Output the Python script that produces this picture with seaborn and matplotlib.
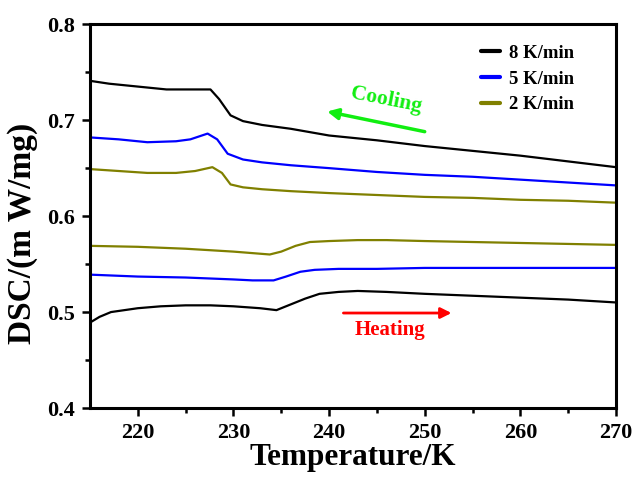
import numpy as np
import pandas as pd
import matplotlib
matplotlib.use('Agg')
import matplotlib.pyplot as plt
import seaborn as sns

# datos (cooling = arriba, heating = abajo)
t_c8 = [215, 217, 220, 223, 225, 227.6, 228.5, 229.7, 231, 233, 236, 240, 245, 250, 255, 260, 265, 270]
dsc_c8 = [0.741, 0.738, 0.735, 0.732, 0.732, 0.732, 0.722, 0.705, 0.699, 0.695, 0.691, 0.684, 0.679, 0.673, 0.668, 0.663, 0.657, 0.651]

t_c5 = [215, 218, 221, 224, 225.5, 227.3, 228.3, 229.4, 231, 233, 236, 240, 245, 250, 255, 260, 265, 270]
dsc_c5 = [0.682, 0.680, 0.677, 0.678, 0.680, 0.686, 0.680, 0.665, 0.659, 0.656, 0.653, 0.650, 0.646, 0.643, 0.641, 0.638, 0.635, 0.632]

t_c2 = [215, 218, 221, 224, 226, 227.8, 228.8, 229.7, 231, 233, 236, 240, 245, 250, 255, 260, 265, 270]
dsc_c2 = [0.649, 0.647, 0.645, 0.645, 0.647, 0.651, 0.645, 0.633, 0.630, 0.628, 0.626, 0.624, 0.622, 0.620, 0.619, 0.617, 0.616, 0.614]

t_h2 = [215, 220, 225, 230, 233.8, 235, 236.5, 238, 240, 243, 246, 250, 255, 260, 265, 270]
dsc_h2 = [0.569, 0.568, 0.566, 0.563, 0.560, 0.563, 0.569, 0.573, 0.574, 0.575, 0.575, 0.574, 0.573, 0.572, 0.571, 0.570]

t_h5 = [215, 220, 225, 230, 232, 234.2, 235.5, 237, 238.5, 241, 245, 250, 255, 260, 265, 270]
dsc_h5 = [0.539, 0.537, 0.536, 0.534, 0.533, 0.533, 0.537, 0.542, 0.544, 0.545, 0.545, 0.546, 0.546, 0.546, 0.546, 0.546]

t_h8 = [215, 216, 217.2, 220, 222.4, 225, 227.6, 230, 232.8, 234.5, 236, 237.5, 239, 241, 243, 246, 250, 255, 260, 265, 270]
dsc_h8 = [0.489, 0.495, 0.500, 0.504, 0.506, 0.507, 0.507, 0.506, 0.504, 0.502, 0.508, 0.514, 0.519, 0.521, 0.522, 0.521, 0.519, 0.517, 0.515, 0.513, 0.510]

rates = ['8 K/min', '5 K/min', '2 K/min']
colores = ['#000000', '#0000ff', '#808000']

# tabla larga para seaborn
partes = []
for t, v, r, m in [(t_c8, dsc_c8, rates[0], 'cooling'), (t_c5, dsc_c5, rates[1], 'cooling'),
                   (t_c2, dsc_c2, rates[2], 'cooling'), (t_h8, dsc_h8, rates[0], 'heating'),
                   (t_h5, dsc_h5, rates[1], 'heating'), (t_h2, dsc_h2, rates[2], 'heating')]:
    partes.append(pd.DataFrame({'T': t, 'DSC': v, 'rate': r, 'modo': m}))
datos = pd.concat(partes, ignore_index=True)

sns.set_style('ticks')
plt.rcParams['font.family'] = ['Liberation Serif', 'DejaVu Serif']
plt.rcParams['font.weight'] = 'bold'
plt.rcParams['text.color'] = 'black'
plt.rcParams['axes.labelcolor'] = 'black'
plt.rcParams['xtick.color'] = 'black'
plt.rcParams['ytick.color'] = 'black'
plt.rcParams['axes.edgecolor'] = 'black'

fig = plt.figure(figsize=(6.38, 4.84), dpi=100)
ax = fig.add_axes([0.141, 0.157, 0.8245, 0.793])

sns.lineplot(data=datos, x='T', y='DSC', hue='rate', units='modo', estimator=None,
             hue_order=rates, palette=colores, linewidth=1.6, ax=ax, sort=False)

ax.set_xlim(215, 270)
ax.set_ylim(0.4, 0.8)
ax.set_xticks([220, 230, 240, 250, 260, 270])
ax.set_xticks(np.arange(225, 270, 10), minor=True)
ax.set_yticks([0.4, 0.5, 0.6, 0.7, 0.8])
ax.set_yticks([0.45, 0.55, 0.65, 0.75], minor=True)
ax.tick_params(which='both', direction='out', width=1.8, labelsize=16, top=False, right=False)
ax.tick_params(which='major', length=6, pad=5)
ax.tick_params(which='minor', length=3.5)
for lab in ax.get_xticklabels() + ax.get_yticklabels():
    lab.set_fontweight('bold')
for s in ax.spines.values():
    s.set_linewidth(2.2)

ax.set_xlabel('Temperature/K', fontsize=22.5, fontweight='bold', labelpad=0)
ax.set_ylabel('DSC/(m W/mg)', fontsize=24, fontweight='bold')
ax.yaxis.set_label_coords(-0.099, 0.456)

leg = ax.legend(loc='upper left', bbox_to_anchor=(0.712, 0.99), frameon=False,
                fontsize=13.5, handlelength=1.0, handletextpad=0.5, labelspacing=0.45)
for h in leg.get_lines():
    h.set_linewidth(3)
for tx in leg.get_texts():
    tx.set_fontweight('bold')

# flechas de cooling y heating
ax.annotate('', xy=(239.8, 0.709), xytext=(250.0, 0.688),
            arrowprops=dict(arrowstyle='-|>', color='#11ee11', lw=2.5, mutation_scale=16,
                            shrinkA=0, shrinkB=0))
ax.text(246.0, 0.721, 'Cooling', color='#11ee11', fontsize=15.5, fontweight='bold',
        rotation=-11, ha='center', va='center')
ax.annotate('', xy=(252.8, 0.499), xytext=(241.5, 0.499),
            arrowprops=dict(arrowstyle='-|>', color='#ff0000', lw=2, mutation_scale=16,
                            shrinkA=0, shrinkB=0))
ax.text(246.4, 0.481, 'Heating', color='#ff0000', fontsize=15, fontweight='bold',
        ha='center', va='center')

fig.savefig('out.png', dpi=100)
